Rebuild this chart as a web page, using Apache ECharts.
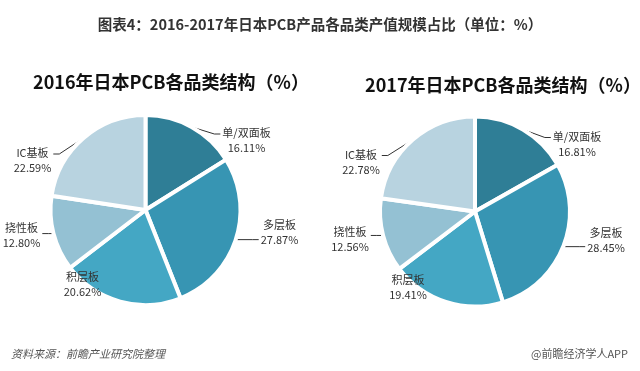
<!DOCTYPE html>
<html><head><meta charset="utf-8">
<script src="https://cdn.jsdelivr.net/npm/echarts@6/dist/echarts.min.js"></script>
<style>html,body{margin:0;padding:0;background:#fff}#c{width:640px;height:371px}</style>
</head><body><div id="c"></div>
<script>
const categories = ['单/双面板', '多层板', '积层板', '挠性板', 'IC基板'];
const values2016 = [16.11, 27.87, 20.62, 12.80, 22.59];
const values2017 = [16.81, 28.45, 19.41, 12.56, 22.78];
const colors = ['#2f7e96', '#3795b3', '#44a7c4', '#94c1d3', '#b8d3e0'];

const FONT = '"Noto Sans CJK SC", "Noto Sans", sans-serif';
const noLine = [false, false, true, false, false]; // 积层板 label sits on its slice, no leader line

function mk(vals) {
  return categories.map((c, i) => ({
    name: c, value: vals[i], itemStyle: { color: colors[i] },
    labelLine: { show: !noLine[i] }
  }));
}
// label placement relative to pie centre: [text centre x offset, first-line centre y offset]
function pieSeries(vals, center, labelOffsets) {
  return {
    type: 'pie',
    center: center,
    radius: 95,
    startAngle: 90,
    clockwise: true,
    animation: false,
    data: mk(vals),
    itemStyle: { borderColor: '#fff', borderWidth: 4 },
    label: {
      show: true,
      position: 'outside',
      color: '#333',
      fontFamily: FONT,
      fontSize: 11,
      lineHeight: 15,
      overflow: 'none',
      formatter: p => p.name + '\n' + p.value.toFixed(2) + '%'
    },
    labelLine: { show: true, length: 8, length2: 10, lineStyle: { color: '#333', width: 1 } },
    labelLayout: function (params) {
      const o = labelOffsets[params.dataIndex];
      const w = params.labelRect.width;
      const cx = center[0] + o[0];
      const nameY = center[1] + o[1];
      const res = { x: cx, y: nameY - 7.5, align: 'center', verticalAlign: 'top', hideOverlap: false, moveOverlap: null };
      const pts = params.labelLinePoints;
      if (pts && pts.length) {
        const s = pts[0];
        const right = cx > center[0];
        const ex = right ? cx - w / 2 - 2 : cx + w / 2 + 2;
        const ey = Math.min(Math.max(s[1], nameY + 1), nameY + 15);
        const mx = right ? ex - 6 : ex + 6;
        res.labelLinePoints = [[s[0], s[1]], [mx, ey], [ex, ey]];
      }
      return res;
    }
  };
}
const chart = echarts.init(document.getElementById('c'));
chart.setOption({
  backgroundColor: '#fff',
  title: [
    { text: '图表4：2016-2017年日本PCB产品各品类产值规模占比（单位：%）', left: 'center', top: 12,
      textStyle: { fontFamily: FONT, fontSize: 14.5, fontWeight: 'bold', color: '#333' } },
    { text: '2016年日本PCB各品类结构（%）', left: 166, top: 68, textAlign: 'center',
      textStyle: { fontFamily: FONT, fontSize: 18, fontWeight: 'bold', color: '#111' } },
    { text: '2017年日本PCB各品类结构（%）', left: 498, top: 71, textAlign: 'center',
      textStyle: { fontFamily: FONT, fontSize: 18, fontWeight: 'bold', color: '#111' } },
    { text: '资料来源：前瞻产业研究院整理', left: 6, top: 343,
      textStyle: { fontFamily: FONT, fontSize: 11, fontStyle: 'italic', fontWeight: 'normal', color: '#555' } },
    { text: '@前瞻经济学人APP', right: 7, top: 343,
      textStyle: { fontFamily: FONT, fontSize: 11, fontWeight: 'normal', color: '#555' } }
  ],
  series: [
    pieSeries(values2016, [145.5, 210], [[101, -77], [134, 15], [-63, 67], [-124, 18], [-113, -57]]),
    pieSeries(values2017, [475, 211.5], [[102, -75], [131, 21], [-67, 68], [-125, 20], [-114, -57]])
  ]
});
</script></body></html>
